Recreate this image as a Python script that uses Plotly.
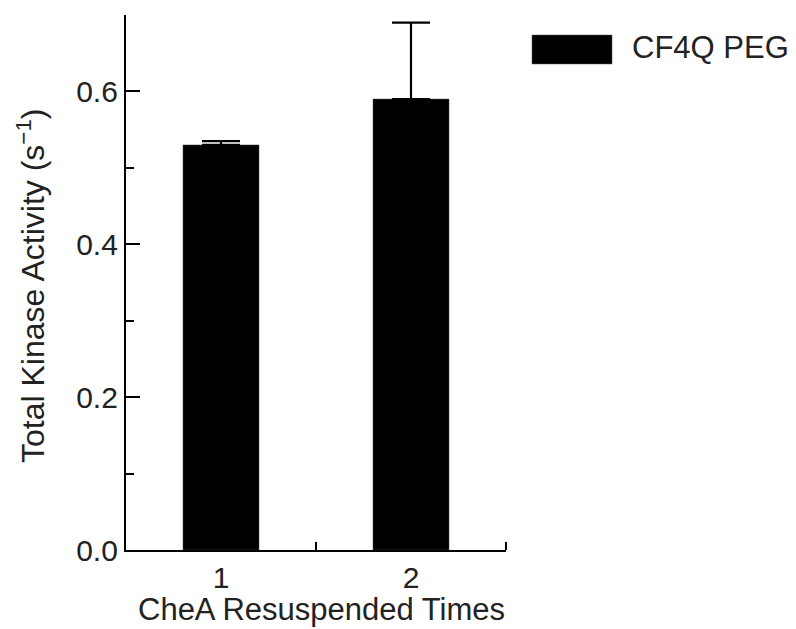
import plotly.graph_objects as go

categories = [1, 2]
values = [0.53, 0.59]
errors_up = [0.005, 0.10]
series_name = "CF4Q PEG"
y_tick_vals = [0.0, 0.2, 0.4, 0.6]
y_tick_text = ["0.0", "0.2", "0.4", "0.6"]
x_tick_text = ["1", "2"]
x_title = "CheA Resuspended Times"
y_title = "Total Kinase Activity (s<sup>\u22121</sup>)"

font_family = "Liberation Sans, Arial, Helvetica, sans-serif"
L, R, T, B = 126, 506, 15, 550
W, H = R - L, B - T

fig = go.Figure()
fig.add_trace(go.Bar(
    x=categories, y=values, width=0.4,
    marker=dict(color="black", line=dict(color="#444", width=0.5)),
    error_y=dict(type="data", array=errors_up, symmetric=False, arrayminus=[0, 0],
                 color="black", thickness=2.2, width=19),
    name=series_name, showlegend=False,
))

fig.update_layout(
    width=796, height=629,
    margin=dict(l=L, r=796 - R, t=T, b=629 - B),
    paper_bgcolor="white", plot_bgcolor="white",
    font=dict(family=font_family, color="#222", size=30),
    xaxis=dict(range=[0.5, 2.5], tickvals=categories, ticktext=x_tick_text,
               ticks="", showline=True, linecolor="black", linewidth=2.2,
               showgrid=False, zeroline=False, tickfont=dict(size=30), automargin=False,
               minor=dict(tickvals=[1.5, 2.5], ticks="inside", ticklen=8,
                          tickwidth=2, tickcolor="black", showgrid=False)),
    yaxis=dict(range=[0, 0.7], tickvals=y_tick_vals, ticktext=y_tick_text,
               ticks="inside", ticklen=14, tickwidth=2, tickcolor="black",
               showline=True, linecolor="black", linewidth=2.2,
               showgrid=False, zeroline=False, tickfont=dict(size=30), automargin=False,
               minor=dict(tickvals=[0.1, 0.3, 0.5, 0.7], ticks="inside", ticklen=8,
                          tickwidth=2, tickcolor="black", showgrid=False)),
)

# axis titles
fig.add_annotation(xref="paper", yref="paper", x=(321.5 - L) / W, y=(B - 609) / H,
                   text=x_title, showarrow=False, xanchor="center", yanchor="middle",
                   font=dict(size=31, color="#222"))
fig.add_annotation(xref="paper", yref="paper", x=(31 - L) / W, y=(B - 286) / H,
                   text=y_title, showarrow=False, xanchor="center", yanchor="middle",
                   textangle=-90, font=dict(size=32, color="#222"))

# legend drawn manually: swatch + label
fig.add_shape(type="rect", xref="paper", yref="paper",
              x0=(532 - L) / W, x1=(612 - L) / W,
              y0=(B - 64) / H, y1=(B - 35) / H,
              fillcolor="black", line=dict(color="#555", width=0.5))
fig.add_annotation(xref="paper", yref="paper", x=(630 - L) / W, y=(B - 48) / H,
                   text=series_name, showarrow=False, xanchor="left", yanchor="middle",
                   font=dict(size=31, color="#222"))

fig.write_html("out.html")
